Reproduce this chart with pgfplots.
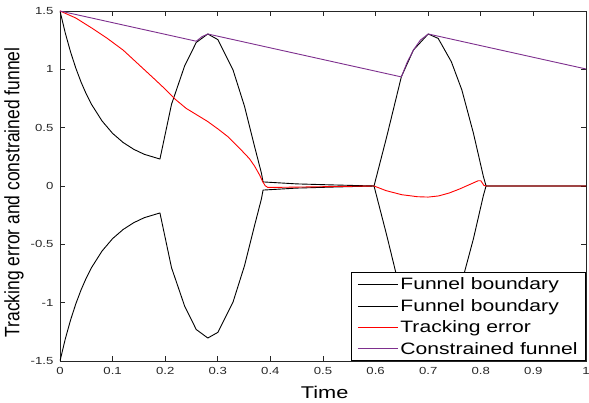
\documentclass[border=0pt]{standalone}
\usepackage{fontspec}
\setmainfont[FakeStretch=1.28]{Liberation Sans}
\newfontfamily\ylabfont[FakeStretch=0.84]{Liberation Sans}
\usepackage{pgfplots}
\pgfplotsset{compat=1.18}
\definecolor{mpurple}{rgb}{0.494,0.184,0.556}
\begin{document}
\begin{tikzpicture}
\begin{axis}[
  scale only axis,
  width=526pt, height=350pt,
  xmin=0, xmax=1, ymin=-1.5, ymax=1.5,
  xtick={0,0.1,0.2,0.3,0.4,0.5,0.6,0.7,0.8,0.9,1},
  xticklabels={0,0.1,0.2,0.3,0.4,0.5,0.6,0.7,0.8,0.9,1},
  ytick={-1.5,-1,-0.5,0,0.5,1,1.5},
  yticklabels={-1.5,-1,-0.5,0,0.5,1,1.5},
  tick align=inside, xtick pos=both, ytick pos=both,
  major tick length=5pt,
  axis line style={black!85, line width=0.7pt},
  every tick/.style={black!85, line width=0.7pt},
  tick label style={font=\fontsize{10.3}{12}\selectfont, black!85},
  xticklabel style={yshift=-3pt},
  yticklabel style={xshift=-3pt},
  every axis x label/.style={at={(axis description cs:0.503,-0.091)}, anchor=center},
  every axis y label/.style={at={(axis description cs:-0.0875,0.4814)}, rotate=90, anchor=center},
  xlabel={\fontsize{17}{20}\selectfont Time},
  ylabel={\ylabfont\fontsize{20.8}{24}\selectfont Tracking error and constrained funnel},
  legend cell align=left,
  legend style={at={(1,0)}, anchor=south east, draw=black, line width=0.7pt,
    font=\fontsize{16.5}{19}\selectfont, inner xsep=6pt, inner ysep=3pt, row sep=4pt},
  legend image code/.code={\draw[#1] (0pt,0pt) -- (40pt,0pt);},
  every axis plot/.append style={line width=0.9pt, line join=round},
]
\coordinate (bl) at (rel axis cs:0,0);
\coordinate (tr) at (rel axis cs:1,1);
\addplot[black] coordinates {
(0,1.5)(0.01,1.312)(0.02,1.15)(0.03,1.011)(0.04,0.891)(0.05,0.788)(0.06,0.699)(0.08,0.557)(0.10,0.451)(0.12,0.373)(0.14,0.315)(0.16,0.272)(0.19,0.231)
(0.212,0.70)(0.237,1.03)(0.259,1.23)(0.281,1.303)(0.30,1.255)(0.329,0.994)(0.351,0.68)(0.370,0.337)(0.383,0.109)(0.386,0.035)
(0.45,0.018)(0.52,0.009)(0.597,0.0)
(0.621,0.42)(0.649,0.937)(0.672,1.166)(0.70,1.303)(0.719,1.265)(0.744,1.065)(0.764,0.823)(0.786,0.452)(0.805,0.08)(0.81,0)(1,0)
};
\addlegendentry{Funnel boundary}
\addplot[black] coordinates {
(0,-1.5)(0.01,-1.312)(0.02,-1.15)(0.03,-1.011)(0.04,-0.891)(0.05,-0.788)(0.06,-0.699)(0.08,-0.557)(0.10,-0.451)(0.12,-0.373)(0.14,-0.315)(0.16,-0.272)(0.19,-0.231)
(0.212,-0.70)(0.237,-1.03)(0.259,-1.23)(0.281,-1.303)(0.30,-1.255)(0.329,-0.994)(0.351,-0.68)(0.370,-0.337)(0.383,-0.109)(0.386,-0.035)
(0.45,-0.018)(0.52,-0.009)(0.597,0.0)
(0.621,-0.42)(0.649,-0.937)(0.672,-1.166)(0.70,-1.303)(0.719,-1.265)(0.744,-1.065)(0.764,-0.823)(0.786,-0.452)(0.805,-0.08)(0.81,0)(1,0)
};
\addlegendentry{Funnel boundary}
\addplot[red] coordinates {
(0,1.5)(0.03,1.44)(0.06,1.355)(0.09,1.265)(0.12,1.165)(0.15,1.04)(0.18,0.915)(0.20,0.83)(0.22,0.74)(0.24,0.665)(0.26,0.61)(0.28,0.555)(0.30,0.49)(0.32,0.42)(0.34,0.33)(0.36,0.235)(0.37,0.17)(0.38,0.09)(0.385,0.04)(0.39,0.003)(0.395,-0.012)(0.41,-0.012)(0.5,-0.006)(0.597,0)(0.62,-0.04)(0.65,-0.075)(0.68,-0.092)(0.70,-0.095)(0.72,-0.085)(0.74,-0.06)(0.76,-0.025)(0.78,0.015)(0.795,0.045)(0.80,0.045)(0.806,0.005)(0.81,0)(1,0)
};
\addlegendentry{Tracking error}
\addplot[mpurple] coordinates {
(0,1.5)(0.259,1.241)(0.27,1.28)(0.281,1.303)(0.649,0.935)(0.66,1.06)(0.672,1.166)(0.685,1.25)(0.70,1.303)(1,1.003)
};
\addlegendentry{Constrained funnel}
\end{axis}
\pgfresetboundingbox
\path ([shift={(-60pt,-42pt)}]bl) rectangle ([shift={(3pt,11pt)}]tr);
\end{tikzpicture}
\end{document}
